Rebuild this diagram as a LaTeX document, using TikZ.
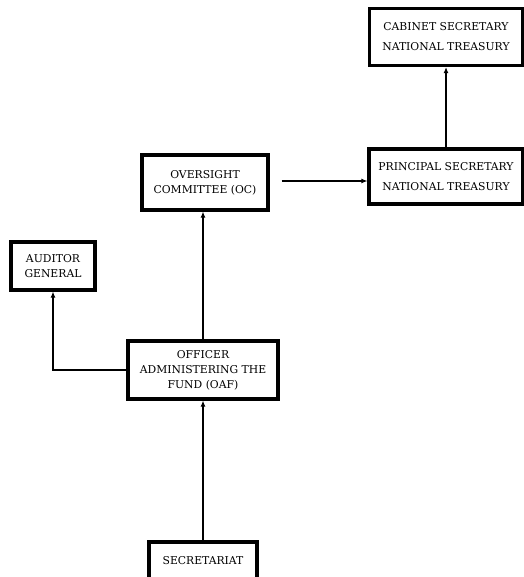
\documentclass[tikz,border=0pt]{standalone}
\usepackage{fontspec}
\setmainfont{DejaVu Serif}
\usetikzlibrary{positioning,calc,arrows.meta}

\tikzset{
  unit/.style={draw, line width=3.2pt, align=center, inner sep=2pt,
               font=\fontsize{10.8}{15}\selectfont},
  link/.style={-{Latex[length=6pt,width=5pt]}, line width=1.1pt}
}

\begin{document}
\begin{tikzpicture}[x=1pt, y=-1pt]
\useasboundingbox (0,0) rectangle (523,577);

\node[unit, minimum width=153pt, minimum height=57pt, font=\fontsize{10.8}{20}\selectfont] (cabinet)   at (446,37)  {CABINET SECRETARY\\NATIONAL TREASURY};
\node[unit, minimum width=154pt, minimum height=55pt, font=\fontsize{10.8}{20}\selectfont] (principal) at (446,176.5) {PRINCIPAL SECRETARY\\NATIONAL TREASURY};
\node[unit, minimum width=126pt, minimum height=55pt] (oversight) at (205,182.5) {OVERSIGHT\\COMMITTEE (OC)};
\node[unit, minimum width=84pt,  minimum height=48pt] (auditor)   at (53,266)    {AUDITOR\\GENERAL};
\node[unit, minimum width=150pt, minimum height=58pt] (oaf)       at (203,370)   {OFFICER\\ADMINISTERING THE\\FUND (OAF)};
\node[unit, minimum width=108pt, minimum height=38pt] (secretariat) at (203,561) {SECRETARIAT};

\draw[link] (secretariat.north) -- (oaf.south);
\draw[link] (oaf.north) -- (oaf.north |- oversight.south);
\draw[link] (oaf.west) -| (auditor.south);
\draw[link, shorten <=12pt] ($(oversight.east)+(0,-1.5)$) -- ($(oversight.east -| principal.west)+(0,-1.5)$);
\draw[link] (principal.north) -- (cabinet.south);
\end{tikzpicture}
\end{document}
